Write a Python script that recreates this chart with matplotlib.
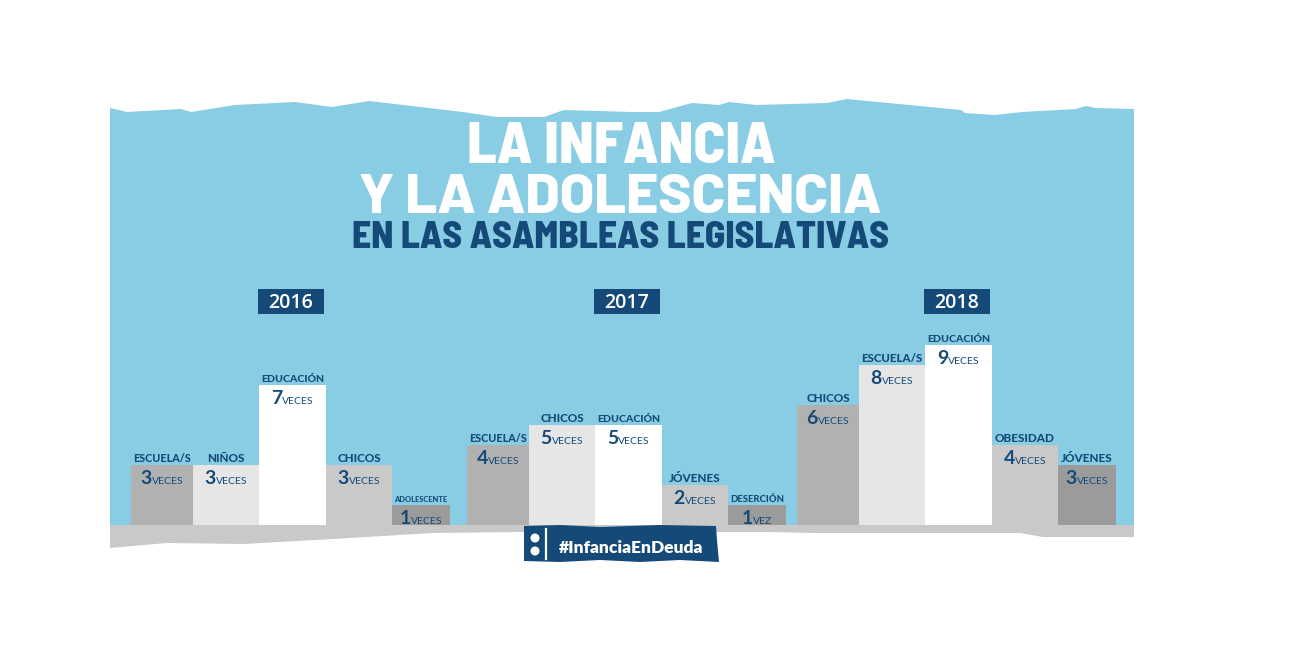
import matplotlib
matplotlib.use("Agg")
import matplotlib.pyplot as plt
from matplotlib.patches import Polygon, Rectangle, Circle

# data
years = ['2016', '2017', '2018']
labels_2016 = ['ESCUELA/S', 'NIÑOS', 'EDUCACIÓN', 'CHICOS', 'ADOLESCENTE']
values_2016 = [3, 3, 7, 3, 1]
units_2016 = ['VECES', 'VECES', 'VECES', 'VECES', 'VECES']
labels_2017 = ['ESCUELA/S', 'CHICOS', 'EDUCACIÓN', 'JÓVENES', 'DESERCIÓN']
values_2017 = [4, 5, 5, 2, 1]
units_2017 = ['VECES', 'VECES', 'VECES', 'VECES', 'VEZ']
labels_2018 = ['CHICOS', 'ESCUELA/S', 'EDUCACIÓN', 'OBESIDAD', 'JÓVENES']
values_2018 = [6, 8, 9, 4, 3]
units_2018 = ['VECES', 'VECES', 'VECES', 'VECES', 'VECES']

title_1 = 'LA INFANCIA'
title_2 = 'Y LA ADOLESCENCIA'
subtitle = 'EN LAS ASAMBLEAS LEGISLATIVAS'
hashtag = '#InfanciaEnDeuda'

# style
NAVY = '#154a78'
SKY = '#88cde4'
GROUND = '#c9c9c9'
bar_colors = ['#b1b1b1', '#e6e6e6', '#ffffff', '#c9c9c9', '#9b9b9b']
bar_widths = [62, 66, 67, 66, 58]
group_starts = [131, 467, 797]
W, H = 1300, 648
BASE = 525      # baseline pixel row
UNIT = 20       # pixels per mention
TITLE_FONT = ['Barlow Semi Condensed', 'DejaVu Sans']
WIDE_FONT = ['Barlow', 'Barlow Semi Condensed', 'DejaVu Sans']
LABEL_FONT = ['Lato', 'DejaVu Sans']

fig = plt.figure(figsize=(W / 100, H / 100), dpi=100)
fig.patch.set_facecolor('white')

# background layer in pixel coordinates
bg = fig.add_axes([0, 0, 1, 1])
bg.set_xlim(0, W)
bg.set_ylim(H, 0)
bg.axis('off')

top_edge = [(110, 108), (127, 112), (181, 109), (191, 112), (235, 105), (295, 102),
            (332, 107), (369, 101), (463, 112), (497, 117), (544, 117), (564, 110),
            (632, 112), (659, 112), (692, 103), (719, 105), (729, 102), (756, 105),
            (827, 103), (847, 99), (961, 110), (965, 113), (995, 115), (1022, 112),
            (1076, 109), (1086, 106), (1096, 108), (1134, 109)]
bg.add_patch(Polygon(top_edge + [(1134, BASE), (110, BASE)], closed=True,
                     facecolor=SKY, edgecolor='none'))

bottom_edge = [(1134, 537), (1043, 537), (1020, 533), (960, 533), (813, 533),
               (767, 532), (717, 532), (523, 532), (433, 533), (333, 539),
               (243, 544), (167, 543), (110, 548)]
bg.add_patch(Polygon([(110, BASE), (1134, BASE)] + bottom_edge, closed=True,
                     facecolor=GROUND, edgecolor='none'))

# hashtag badge
badge = [(524, 526), (560, 525), (600, 527), (660, 525), (716, 526), (717, 540),
         (719, 562), (680, 560), (640, 562), (600, 560), (560, 562), (524, 561)]
bg.add_patch(Polygon(badge, closed=True, facecolor=NAVY, edgecolor='none', zorder=3))
bg.add_patch(Circle((535, 538), 4.5, facecolor='white', edgecolor='none', zorder=4))
bg.add_patch(Circle((535, 551), 4.5, facecolor='white', edgecolor='none', zorder=4))
bg.plot([546, 546], [529, 559], color='white', lw=1.6, zorder=4)
bg.text(631, 553, hashtag, color='white', fontsize=12.5, fontfamily=LABEL_FONT,
        fontweight='heavy', ha='center', va='baseline', zorder=5)

# titles
bg.text(621, 163, title_1, color='white', fontsize=42.5, fontfamily=TITLE_FONT,
        fontweight=800, ha='center', va='baseline')
bg.text(620, 213, title_2, color='white', fontsize=40, fontfamily=WIDE_FONT,
        fontweight=800, ha='center', va='baseline')
bg.text(620, 248, subtitle, color=NAVY, fontsize=27, fontfamily=TITLE_FONT,
        fontweight=800, ha='center', va='baseline')

# bars
ax = fig.add_axes([0, (H - BASE) / H, 1, 10 * UNIT / H])
ax.set_xlim(0, W)
ax.set_ylim(0, 10)
ax.axis('off')
ax.patch.set_visible(False)

groups = [(labels_2016, values_2016, units_2016),
          (labels_2017, values_2017, units_2017),
          (labels_2018, values_2018, units_2018)]

renderer = fig.canvas.get_renderer()
pairs = []
for g, (labels, values, units) in enumerate(groups):
    lefts = [group_starts[g]]
    for w in bar_widths[:-1]:
        lefts.append(lefts[-1] + w)
    ax.bar(lefts, values, width=bar_widths, align='edge', color=bar_colors,
           edgecolor='none')

    # year tag
    gc = (lefts[0] + lefts[-1] + bar_widths[-1]) / 2
    bg.add_patch(Rectangle((gc - 33, 289), 66, 25, facecolor=NAVY, edgecolor='none'))
    bg.text(gc, 308, years[g], color='white', fontsize=14,
            fontfamily=['Open Sans', 'DejaVu Sans'], fontweight='semibold',
            ha='center', va='baseline')

    for x, w, lab, v, u in zip(lefts, bar_widths, labels, values, units):
        cx = x + w / 2
        t = ax.annotate(lab, (cx, v), xytext=(0, 3), textcoords='offset pixels',
                        ha='center', va='baseline', color=NAVY, fontsize=8.5,
                        fontfamily=LABEL_FONT, fontweight=900, annotation_clip=False)
        tw = t.get_window_extent(renderer).width
        if tw > w - 5:
            t.set_fontsize(8.5 * (w - 5) / tw)
        n = ax.annotate(str(v), (cx, v), xytext=(0, -19), textcoords='offset pixels',
                        ha='left', va='baseline', color=NAVY, fontsize=14,
                        fontfamily=LABEL_FONT, fontweight='bold', annotation_clip=False)
        un = ax.annotate(u, (cx, v), xytext=(0, -19), textcoords='offset pixels',
                         ha='left', va='baseline', color=NAVY, fontsize=7.5,
                         fontfamily=LABEL_FONT, annotation_clip=False)
        pairs.append((n, un))

for n, un in pairs:
    wn = n.get_window_extent(renderer).width
    wu = un.get_window_extent(renderer).width
    n.xyann = (-(wn + wu) / 2, -19)
    un.xyann = (-(wn + wu) / 2 + wn, -19)

fig.savefig('out.png', dpi=100, facecolor='white')
